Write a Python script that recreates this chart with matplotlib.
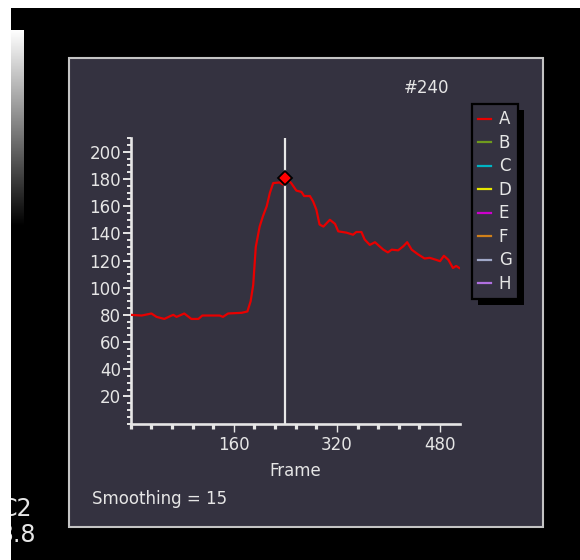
import numpy as np
import matplotlib
matplotlib.use("Agg")
import matplotlib.pyplot as plt
from matplotlib.lines import Line2D
from matplotlib.patches import Rectangle
from matplotlib.ticker import FixedLocator, MultipleLocator

plt.rcParams["font.family"] = ["DejaVu Sans"]

# trace A (smoothing = 15)
frames = [0, 17, 32, 40, 52, 61, 66, 71, 83, 94,
          105, 111, 138, 143, 151, 172, 181, 186, 190, 194,
          200, 205, 211, 216, 221, 231, 236, 240, 249, 257,
          265, 269, 278, 283, 288, 293, 299, 309, 317, 322,
          335, 345, 350, 358, 363, 371, 379, 386, 392, 399,
          405, 415, 423, 429, 436, 446, 456, 464, 474, 480,
          486, 493, 500, 505, 510]
values = [80, 79.5, 81, 78.5, 77, 79, 80, 78.5, 81, 77,
          77, 79.5, 79.5, 78.5, 81, 81.5, 82.5, 90, 102, 130,
          145, 152.5, 160, 170, 177, 177.5, 176, 181, 177, 171.5,
          170.5, 167.5, 167.5, 163.5, 157.5, 146.5, 145, 150, 147, 141.5,
          140.5, 139, 141, 141, 135.5, 131.5, 133.5, 130.5, 128, 126,
          128, 127.5, 130.5, 133.5, 128, 124.5, 121.5, 122, 120.5, 119.5,
          123.5, 120.5, 114.5, 116, 114.5]
cursor_frame = 240

series_names = ["A", "B", "C", "D", "E", "F", "G", "H"]
series_colors = ["#e80000", "#6f9a1e", "#00b4c4", "#e6e600",
                 "#cc00cc", "#d0801a", "#a0a8c8", "#b070e0"]

x_major = [160, 320, 480]
y_major = list(range(20, 201, 20))

panel_col = "#343240"
fg = "#e6e6e6"

W, H = 580, 560
fig = plt.figure(figsize=(5.8, 5.6), dpi=100, facecolor="black")

def px(x, y, w, h):
    # pixel box (top-left origin) -> figure fraction
    return [x / W, 1 - (y + h) / H, w / W, h / H]

# panel behind the plot
b = px(69, 58, 474, 469)
fig.patches.append(Rectangle((b[0], b[1]), b[2], b[3], transform=fig.transFigure,
                             facecolor=panel_col, edgecolor="#c4c4c4", lw=1.5, zorder=-1))

# gray scale bar on the left
cax = fig.add_axes(px(11, 30, 13, 196))
grad = np.linspace(1, 0, 256).reshape(-1, 1)
cax.imshow(grad, cmap="gray", aspect="auto", vmin=0, vmax=1)
cax.axis("off")

fig.text(32 / W, 1 - 509 / H, "C2", color=fg, fontsize=17, ha="right", va="center")
fig.text(36 / W, 1 - 535 / H, "3.8", color=fg, fontsize=17, ha="right", va="center")

# white screen edges
fig.patches.append(Rectangle((0, 0), 11 / W, 1, transform=fig.transFigure,
                             facecolor="white", edgecolor="none", zorder=10))
fig.patches.append(Rectangle((0, 1 - 8 / H), 1, 8 / H, transform=fig.transFigure,
                             facecolor="white", edgecolor="none", zorder=10))

ax = fig.add_axes(px(130.8, 138.3, 329.2, 285.2))
ax.patch.set_alpha(0)
ax.plot(frames, values, color=series_colors[0], lw=1.6, zorder=3)
ax.axvline(cursor_frame, color="#e8e8e8", lw=1.6, zorder=2)
ax.plot([cursor_frame], [values[frames.index(cursor_frame)]], marker="D", ms=7,
        mfc="#ff0000", mec="black", mew=1.3, zorder=4)

ax.set_xlim(0, 511)
ax.set_ylim(0, 210)
for s in ["top", "right"]:
    ax.spines[s].set_visible(False)
for s in ["left", "bottom"]:
    ax.spines[s].set_color(fg)
    ax.spines[s].set_linewidth(1.9)

ax.xaxis.set_major_locator(FixedLocator(x_major))
ax.xaxis.set_minor_locator(MultipleLocator(32))
ax.yaxis.set_major_locator(FixedLocator(y_major))
ax.yaxis.set_minor_locator(MultipleLocator(5))
ax.tick_params(axis="x", which="major", length=5.5, width=1.0, color=fg,
               labelcolor=fg, labelsize=12, pad=3.5)
ax.tick_params(axis="x", which="minor", length=3.5, width=2.3, color=fg)
ax.tick_params(axis="y", which="major", length=5.5, width=1.4, color=fg,
               labelcolor=fg, labelsize=12, pad=1.5)
ax.tick_params(axis="y", which="minor", length=3, width=1.4, color=fg)
ax.set_xlabel("Frame", color=fg, fontsize=12, labelpad=6)

handles = [Line2D([], [], color=c, lw=1.6) for c in series_colors]
leg = ax.legend(handles, series_names, loc="upper left",
                bbox_to_anchor=(471.7 / W, 1 - 104 / H), bbox_transform=fig.transFigure,
                borderaxespad=0, fontsize=12, labelcolor=fg, frameon=True, fancybox=False,
                handlelength=0.8, handletextpad=0.45, labelspacing=0.33, borderpad=0.38)
leg.get_frame().set_facecolor(panel_col)
leg.get_frame().set_edgecolor("black")
leg.get_frame().set_linewidth(1.6)
leg.get_frame().set_alpha(1)
leg.set_zorder(6)

# drop shadow under the legend box
fig.canvas.draw()
bb = leg.get_window_extent()
ax.add_patch(Rectangle((bb.x0 + 6, bb.y0 - 6), bb.width, bb.height, transform=None,
                       facecolor="black", edgecolor="none", zorder=5, clip_on=False))

fig.text(449 / W, 1 - 88 / H, "#240", color=fg, fontsize=12, ha="right", va="center")
fig.text(92 / W, 1 - 498.5 / H, "Smoothing = 15", color=fg, fontsize=12, ha="left", va="center")

fig.savefig("out.png", dpi=100, facecolor="black")
